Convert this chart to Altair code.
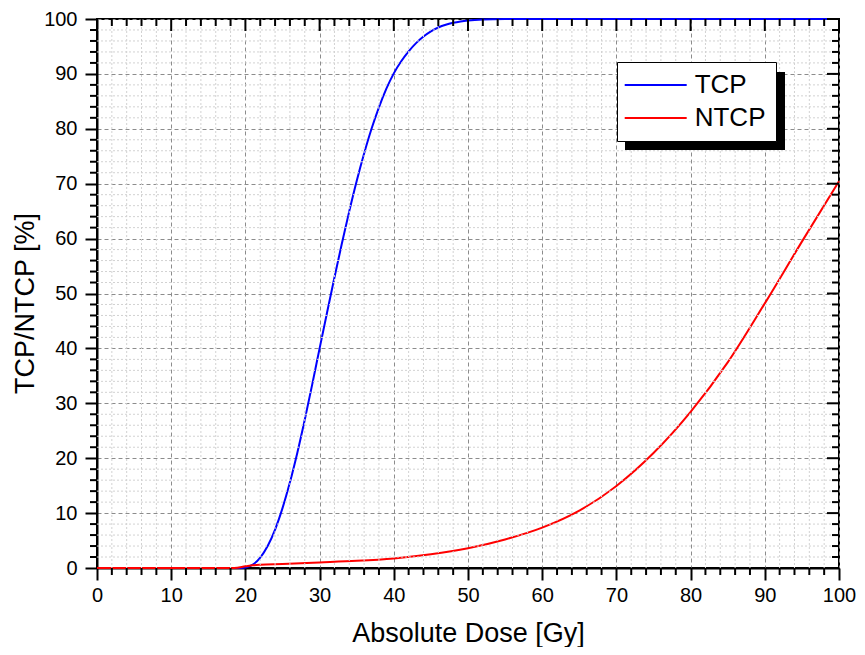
import altair as alt
import pandas as pd

# ---- data ----
tcp_dose = [0, 10, 19, 20, 21, 22, 23, 24, 25, 26, 27, 28, 29, 30, 31, 32, 33, 34, 35,
            36, 37, 38, 39, 40, 41, 42, 43, 44, 45, 46, 47, 48, 49, 50, 52, 55, 60, 70,
            80, 90, 100]
tcp_values = [0, 0, 0, 0.1, 0.6, 1.9, 4.0, 7.0, 10.9, 15.6, 21.0, 27.0, 33.4, 40.0, 46.5,
              52.9, 59.1, 65.0, 70.5, 75.5, 80.0, 83.9, 87.3, 90.1, 92.3, 94.1, 95.6, 96.8,
              97.75, 98.45, 98.95, 99.3, 99.55, 99.72, 99.9, 99.98, 100, 100, 100, 100, 100]

ntcp_dose = [0, 10, 18.5, 20, 21, 22, 25, 30, 35, 40, 45, 50, 55, 60, 65, 70, 75, 80,
             85, 90, 95, 100]
ntcp_values = [0, 0, 0, 0.3, 0.5, 0.6, 0.72, 1.0, 1.3, 1.75, 2.5, 3.6, 5.2, 7.35, 10.45,
               14.95, 20.95, 28.45, 37.45, 48.2, 59.45, 70.45]

series_names = ["TCP", "NTCP"]
series_colors = ["#0000ff", "#ff0000"]

major_ticks = list(range(0, 101, 10))
minor_ticks = [v for v in range(0, 101, 2) if v % 10]

x_title = "Absolute Dose [Gy]"
y_title = "TCP/NTCP [%]"

# ---- layout ----
W, H = 742, 549
FONT = "Liberation Sans"

lines_df = pd.concat([
    pd.DataFrame({"dose": tcp_dose, "prob": tcp_values, "curve": "TCP"}),
    pd.DataFrame({"dose": ntcp_dose, "prob": ntcp_values, "curve": "NTCP"}),
], ignore_index=True)
minor_df = pd.DataFrame({"m": minor_ticks})
major_df = pd.DataFrame({"t": major_ticks})
one_df = pd.DataFrame({"a": [0]})

xs = alt.Scale(domain=[0, 100], nice=False, zero=False)
ys = alt.Scale(domain=[0, 100], nice=False, zero=False)


def X(field):
    return alt.X(field, scale=xs, title=x_title)


def Y(field):
    return alt.Y(field, scale=ys, title=y_title)


grid_x = alt.Chart(minor_df).mark_rule(color="#d2d2d2", strokeDash=[2, 2], strokeWidth=1).encode(
    x=X("m:Q"))
grid_y = alt.Chart(minor_df).mark_rule(color="#d2d2d2", strokeDash=[2, 2], strokeWidth=1).encode(
    y=Y("m:Q"))

LX, LY = 520, 45
shadow = alt.Chart(one_df).mark_rect(color="black").encode(
    x=alt.value(LX + 8), x2=alt.value(LX + 168), y=alt.value(LY + 8), y2=alt.value(LY + 86))

lines = alt.Chart(lines_df).mark_line(strokeWidth=2, interpolate="monotone").encode(
    x=alt.X("dose:Q", scale=xs, title=x_title,
            axis=alt.Axis(values=major_ticks, labelFlush=False, labelOverlap=False,
                          labelPadding=5, titleY=73, titleBaseline="alphabetic")),
    y=alt.Y("prob:Q", scale=ys, title=y_title,
            axis=alt.Axis(values=major_ticks, labelFlush=False, labelOverlap=False,
                          labelPadding=8, titleX=-64, titleY=284,
                          titleBaseline="alphabetic")),
    color=alt.Color("curve:N",
                    scale=alt.Scale(domain=series_names, range=series_colors),
                    legend=alt.Legend(title=None, orient="none", legendX=LX, legendY=LY - 2,
                                      fillColor="white", strokeColor="black", padding=10,
                                      symbolType="M-3,0H3", symbolSize=427,
                                      symbolStrokeWidth=2, symbolOffset=15.7,
                                      labelOffset=26, labelFont=FONT, labelFontSize=26,
                                      labelColor="black", rowPadding=7)),
)

tick_col = "black"
bottom_minor = alt.Chart(minor_df).mark_rule(color=tick_col, strokeWidth=2).encode(
    x=X("m:Q"), y=alt.value(H), y2=alt.value(H + 7))
left_minor = alt.Chart(minor_df).mark_rule(color=tick_col, strokeWidth=2).encode(
    y=Y("m:Q"), x=alt.value(-7), x2=alt.value(0))
top_major = alt.Chart(major_df).mark_rule(color=tick_col, strokeWidth=2).encode(
    x=X("t:Q"), y=alt.value(0), y2=alt.value(12))
top_minor = alt.Chart(minor_df).mark_rule(color=tick_col, strokeWidth=2).encode(
    x=X("m:Q"), y=alt.value(0), y2=alt.value(7))
right_major = alt.Chart(major_df).mark_rule(color=tick_col, strokeWidth=2).encode(
    y=Y("t:Q"), x=alt.value(W - 12), x2=alt.value(W))
right_minor = alt.Chart(minor_df).mark_rule(color=tick_col, strokeWidth=2).encode(
    y=Y("m:Q"), x=alt.value(W - 7), x2=alt.value(W))

chart = alt.layer(
    lines, grid_x, grid_y, shadow,
    bottom_minor, left_minor, top_major, top_minor, right_major, right_minor,
).properties(
    width=W, height=H,
    autosize=alt.AutoSizeParams(type="none"),
    padding={"left": 89, "top": 11, "right": 18, "bottom": 79},
    background="white",
).configure_view(
    stroke="black", strokeWidth=2,
).configure_axis(
    domainColor="black", domainWidth=2,
    tickColor="black", tickWidth=2, tickSize=12,
    labelFont=FONT, labelFontSize=20, labelColor="black",
    titleFont=FONT, titleFontSize=27, titleFontWeight="normal", titleColor="black",
    gridColor="#8c8c8c", gridDash=[4, 3], gridWidth=1,
)

chart.save("out.html", embed_options={"renderer": "svg", "actions": False})
